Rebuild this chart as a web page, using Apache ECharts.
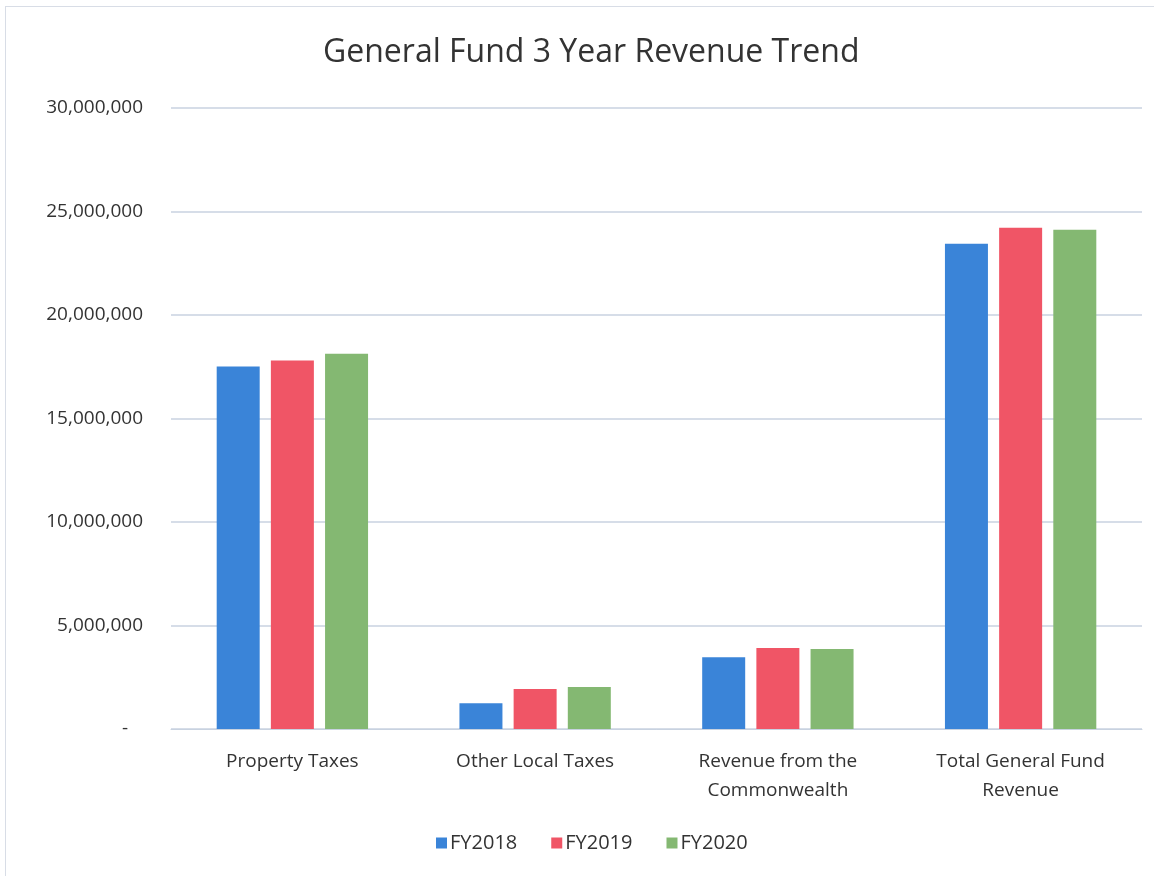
<!DOCTYPE html>
<html>
<head>
<meta charset="utf-8">
<script src="https://cdn.jsdelivr.net/npm/echarts@6/dist/echarts.min.js"></script>
<style>
    html, body { margin: 0; padding: 0; background: #fff; }
    #chart {
        position: absolute;
        left: 5px;
        top: 6px;
        width: 1149px;
        height: 870px;
        border-left: 1px solid #d8dde6;
        border-top: 1px solid #d8dde6;
        box-sizing: border-box;
    }
</style>
</head>
<body>
<div id="chart"></div>
<script>
const categories = ['Property Taxes', 'Other Local Taxes', 'Revenue from the\nCommonwealth', 'Total General Fund\nRevenue']
const years = ['FY2018', 'FY2019', 'FY2020']
const fy2018 = [17510000, 1250000, 3470000, 23440000]
const fy2019 = [17800000, 1930000, 3910000, 24210000]
const fy2020 = [18130000, 2030000, 3860000, 24120000]
const colors = ['#3a84d8', '#f05566', '#84b872']

const font = '"Open Sans", "Noto Sans", sans-serif'

function fmt(v) {
    if (v === 0) return '-   '
    return v.toLocaleString('en-US')
}

const chart = echarts.init(document.getElementById('chart'))

chart.setOption({
    animation: false,
    title: {
        text: 'General Fund 3 Year Revenue Trend',
        left: 317,
        top: 30,
        padding: 0,
        textStyle: { fontFamily: font, fontSize: 32, fontWeight: 'normal', color: '#333' },
    },
    legend: {
        data: years,
        bottom: 23,
        left: 430,
        padding: 0,
        itemWidth: 11,
        itemHeight: 11,
        itemGap: 34,
        icon: 'rect',
        textStyle: { fontFamily: font, fontSize: 20, color: '#333', padding: [0, 0, 0, -2] },
    },
    grid: { left: 165, right: 12, top: 101, bottom: 147 },
    xAxis: {
        type: 'category',
        data: categories,
        axisLine: { lineStyle: { color: '#c8d2e0' } },
        axisTick: { show: false },
        axisLabel: { fontFamily: font, fontSize: 19, color: '#333', margin: 18, lineHeight: 29 },
    },
    yAxis: {
        type: 'value',
        min: 0,
        max: 30000000,
        interval: 5000000,
        axisLine: { show: false },
        axisTick: { show: false },
        splitLine: { lineStyle: { color: '#c8d2e0', width: 1.5 } },
        axisLabel: { fontFamily: font, fontSize: 19, color: '#333', margin: 28, formatter: fmt },
    },
    series: [fy2018, fy2019, fy2020].map((d, i) => ({
        name: years[i],
        type: 'bar',
        data: d,
        barWidth: 43,
        barGap: '26%',
        itemStyle: { color: colors[i] },
    })),
})
</script>
</body>
</html>
